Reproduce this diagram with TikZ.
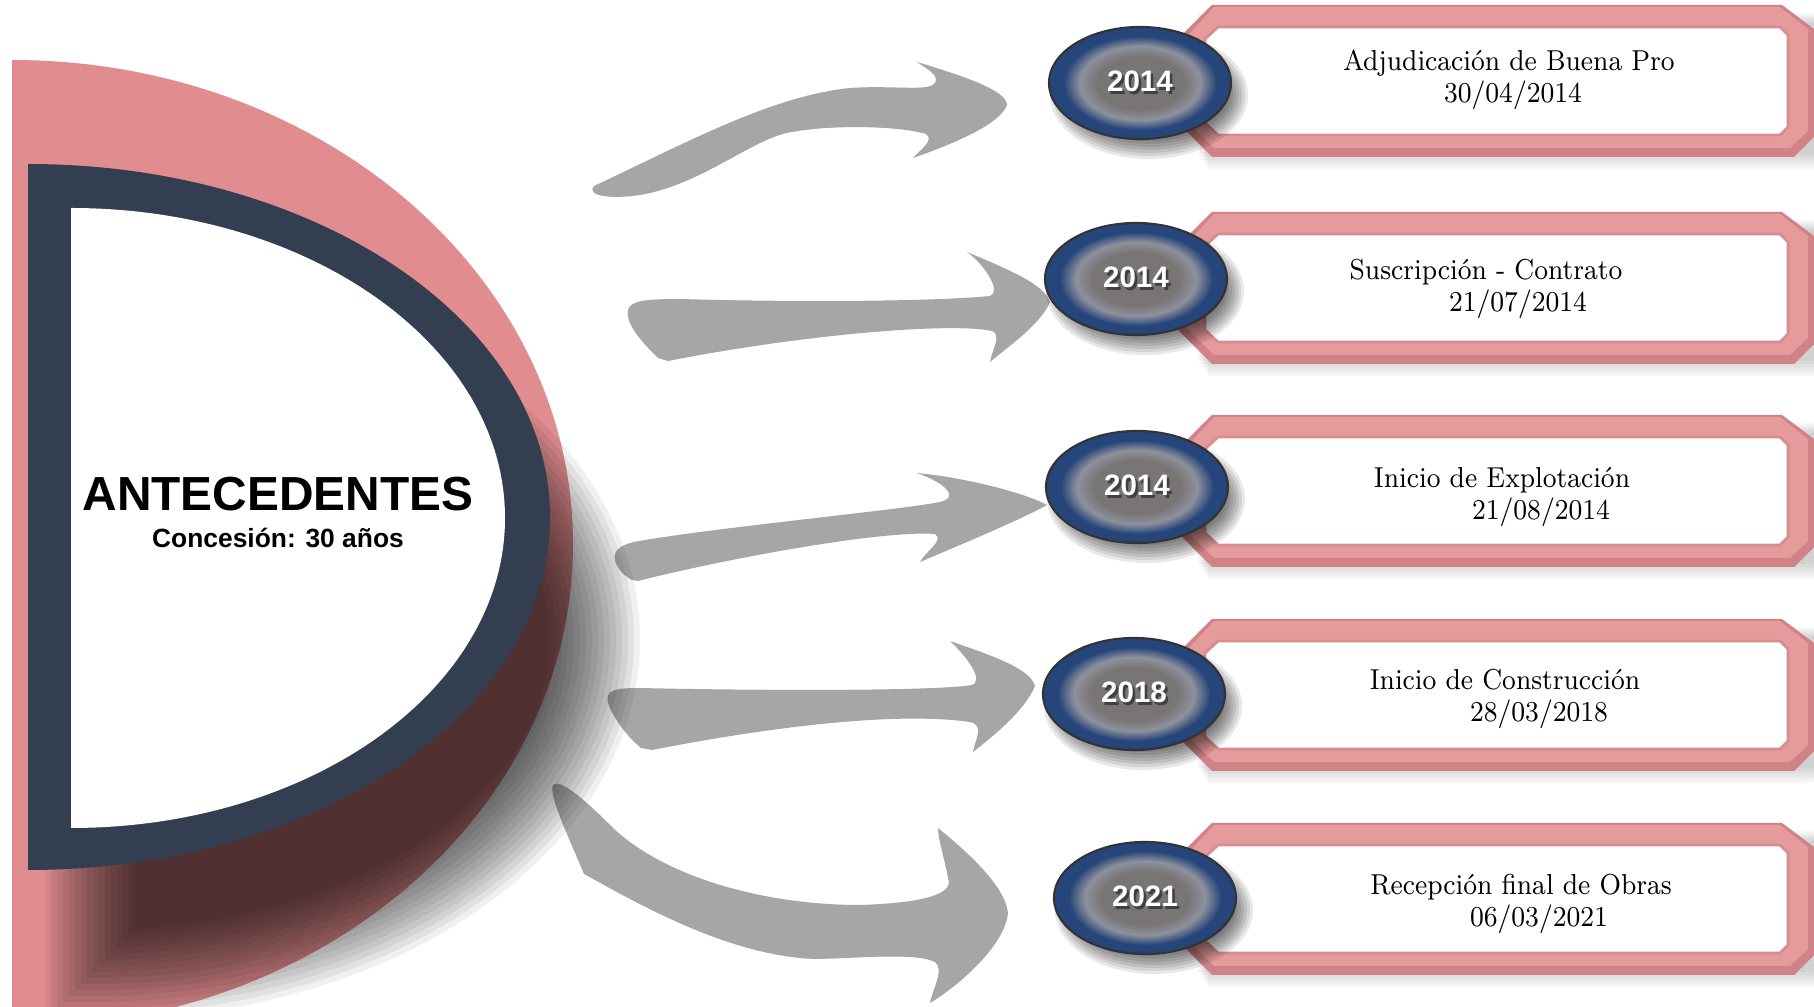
\documentclass[tikz,border=0pt]{standalone}
\usepackage{fontspec}
\usepackage{tikz}
\usetikzlibrary{shapes.geometric, positioning, calc}
\newfontfamily\arialfont{Liberation Sans}

\definecolor{dpink}{HTML}{E18D8F}
\definecolor{dnavy}{HTML}{333E50}
\definecolor{arrowgray}{HTML}{A6A6A6}
\definecolor{yearblue}{HTML}{26457A}
\definecolor{glowcore}{HTML}{787574}
\definecolor{glowring}{HTML}{8E919C}
\definecolor{framedark}{HTML}{D08286}
\definecolor{framelight}{HTML}{E59A9C}
\definecolor{frameline}{HTML}{D58E90}

\pgfdeclareradialshading{yearglow}{\pgfpoint{0bp}{0bp}}{color(0bp)=(glowcore); color(12bp)=(glowcore); color(16.5bp)=(glowring); color(21bp)=(yearblue); color(50bp)=(yearblue)}

% white year with a dark drop shadow
\newcommand{\yeartext}[1]{\makebox[0pt][l]{\raisebox{-0.7pt}{\hspace{0.7pt}\textcolor{black!75}{#1}}}#1}
% narrow serif line
\newcommand{\narrowtext}[1]{\scalebox{0.9}[1]{#1}}

% pink chamfered frame, #1 = centre y
\newcommand{\eventframe}[1]{%
  \foreach \s in {1,...,6}
    \fill[black, opacity=0.03] ({1196+2*\s},{#1-70+2*\s}) rectangle (1814,{#1+70+3*\s});
  \fill[framedark] (1212,{#1-76}) -- (1782,{#1-76}) -- (1814,{#1-52}) -- (1814,{#1+56}) -- (1794,{#1+76}) -- (1212,{#1+76}) -- (1160,{#1+24}) -- (1160,{#1-24}) -- cycle;
  \fill[framelight] (1214,{#1-74}) -- (1780,{#1-74}) -- (1808,{#1-52}) -- (1808,{#1+50}) -- (1790,{#1+67}) -- (1214,{#1+67}) -- (1166,{#1+20}) -- (1166,{#1-22}) -- cycle;
  \filldraw[fill=white, draw=frameline, line width=0.8pt] (1218,{#1-54}) -- (1780,{#1-54}) -- (1788,{#1-46}) -- (1788,{#1+46}) -- (1780,{#1+54}) -- (1218,{#1+54}) -- (1205,{#1+42}) -- (1205,{#1-42}) -- cycle;
}

\begin{document}
\begin{tikzpicture}[x=0.01cm, y=-0.01cm,
  yearnode/.style={ellipse, minimum width=1.82cm, minimum height=1.12cm, inner sep=0pt, shade, shading=yearglow, draw=black!80, line width=0.6pt, text=white, font=\arialfont\bfseries\fontsize{8.4}{9}\selectfont},
  eventtext/.style={anchor=base, font=\fontsize{8.2}{9}\selectfont},
  headtext/.style={anchor=base, font=\arialfont\bfseries\fontsize{13.6}{15}\selectfont},
  subtext/.style={anchor=base, font=\arialfont\bfseries\fontsize{7.5}{9}\selectfont},
  bigarrow/.style={fill=arrowgray}
]
  \useasboundingbox (0,0) rectangle (1814,1007);
  \clip (0,0) rectangle (1814,1007);
  \fill[white] (0,0) rectangle (1814,1007);

  % outer pink half disc
  \fill[dpink] (12,60) arc[start angle=-90, end angle=90, x radius=561, y radius=484] -- cycle;

  % curved arrows
  \fill[bigarrow] (594,186) .. controls (680,146) and (770,96) .. (850,88) .. controls (895,85) and (928,92) .. (935,83) .. controls (940,75) and (925,68) .. (917,62) .. controls (960,75) and (1007,90) .. (1007,105) .. controls (1000,125) and (950,145) .. (913,158) .. controls (920,150) and (935,140) .. (926,134) .. controls (900,126) and (830,124) .. (787,133) .. controls (750,141) and (700,185) .. (640,195) .. controls (615,199) and (585,197) .. (594,186) -- cycle;
  \fill[bigarrow] (628,310) .. controls (630,300) and (650,299) .. (680,299) .. controls (780,302) and (930,302) .. (990,296) .. controls (1002,292) and (985,265) .. (967,252) .. controls (1010,270) and (1045,285) .. (1050,302) .. controls (1040,325) and (1010,345) .. (990,362) .. controls (992,350) and (1002,335) .. (992,331) .. controls (950,322) and (800,335) .. (668,361) -- (658,358) .. controls (645,345) and (625,325) .. (628,310) -- cycle;
  \fill[bigarrow] (615,560) .. controls (612,548) and (625,543) .. (645,540) .. controls (730,526) and (900,510) .. (940,502) .. controls (960,497) and (945,483) .. (917,473) .. controls (970,478) and (1030,495) .. (1047,505) .. controls (1020,520) and (960,545) .. (920,562) .. controls (925,552) and (945,540) .. (935,534) .. controls (880,530) and (720,560) .. (638,581) -- (632,580) .. controls (622,575) and (616,566) .. (615,560) -- cycle;
  \fill[bigarrow] (608,703) .. controls (605,690) and (615,688) .. (640,688) .. controls (720,690) and (930,692) .. (972,685) .. controls (985,680) and (965,655) .. (950,641) .. controls (990,655) and (1030,668) .. (1035,686) .. controls (1025,710) and (995,735) .. (973,752) .. controls (975,740) and (985,725) .. (970,722) .. controls (900,712) and (780,725) .. (652,750) -- (641,748) .. controls (625,735) and (612,715) .. (608,703) -- cycle;
  \fill[bigarrow] (553,785) .. controls (560,778) and (585,800) .. (610,825) .. controls (660,875) and (760,905) .. (860,905) .. controls (920,903) and (955,895) .. (948,878) .. controls (945,860) and (938,840) .. (938,828) .. controls (965,850) and (1005,885) .. (1008,913) .. controls (1005,945) and (960,985) .. (930,1003) .. controls (932,990) and (945,970) .. (935,962) .. controls (910,950) and (830,962) .. (800,958) .. controls (720,950) and (640,905) .. (584,874) .. controls (570,840) and (548,795) .. (553,785) -- cycle;

  % soft shadow of the dark D
  \begin{scope}
    \clip (30,0) rectangle (1814,1007);
    \foreach \e in {50,44,...,-40}
      \fill[black, opacity=0.06] ({95-(\e)},{310-(\e)}) -- (95,{310-(\e)}) arc[start angle=-90, end angle=90, x radius={495+(\e)}, y radius={330+(\e)}] -- ({95-(\e)},{970+(\e)}) -- cycle;
  \end{scope}

  % dark D and white core
  \fill[dnavy] (28,164) arc[start angle=-90, end angle=90, x radius=522, y radius=353] -- cycle;
  \fill[white] (71,208) arc[start angle=-90, end angle=90, x radius=434, y radius=310] -- cycle;

  \node[headtext] (head) at (278,511) {ANTECEDENTES};
  \node[subtext] (sub) at (278,548) {Concesión: 30 años};

  % milestones
  \foreach \n/\ex/\ey/\by/\yr/\ttl/\tx/\ty/\dt/\dx in {
      1/1140/83/81/2014/{Adjudicación de Buena Pro}/1509/71/{30/04/2014}/1513,
      2/1136/279/288/2014/{Suscripción - Contrato}/1486/280/{21/07/2014}/1518,
      3/1137/487/491/2014/{Inicio de Explotación}/1502/488/{21/08/2014}/1541,
      4/1134/694/695/2018/{Inicio de Construcción}/1505/690/{28/03/2018}/1539,
      5/1145/898/899/2021/{Recepción final de Obras}/1521/895/{06/03/2021}/1539} {
    \eventframe{\by}
    \foreach \s in {0,...,7}
      \fill[black, opacity=0.09] ({\ex+9},{\ey+12}) ellipse [x radius={99-3*\s}, y radius={64-3*\s}];
    \node[yearnode] (yr\n) at (\ex,\ey) {\yeartext{\yr}};
    \node[eventtext] (ttl\n) at (\tx,\ty) {\narrowtext{\ttl}};
    \node[eventtext] (date\n) at (\dx,{\ty+32}) {\narrowtext{\dt}};
  }
\end{tikzpicture}
\end{document}
